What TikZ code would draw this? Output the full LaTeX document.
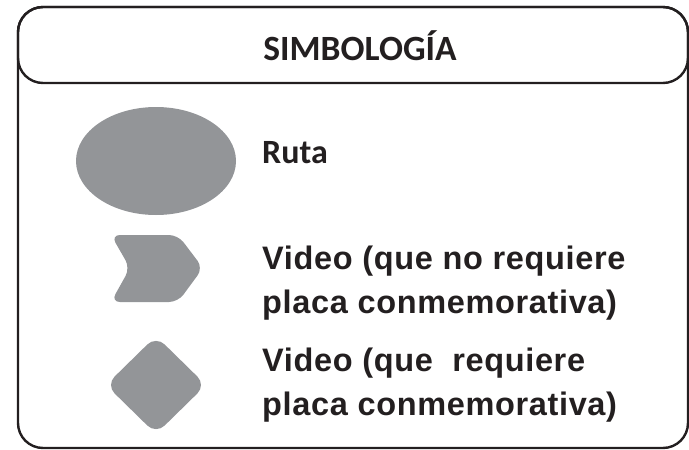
\documentclass[tikz,border=0pt]{standalone}
\usepackage{fontspec}
\setmainfont{Liberation Sans}
\newfontfamily\headfont{Carlito}
\newfontfamily\bodyfont[LetterSpace=2]{Liberation Sans}
\definecolor{framecolor}{HTML}{231F20}
\definecolor{symbolgray}{HTML}{939598}

\begin{document}
\begin{tikzpicture}[x=1pt,y=-1pt,line cap=round,line join=round]
  \useasboundingbox (0,0) rectangle (689,450);
  % frame and title bar
  \draw[framecolor,line width=2.4pt,rounded corners=25pt] (18,7) rectangle (688,448);
  \draw[framecolor,line width=2.4pt,rounded corners=25pt] (18,7) rectangle (688,83);
  \node[font=\headfont\bfseries\fontsize{35.5}{40}\selectfont,text=framecolor] (title) at (360,46) {SIMBOLOGÍA};
  % symbols
  \fill[symbolgray] (156,161) ellipse[x radius=80,y radius=54];
  \fill[symbolgray,rounded corners=9pt] (111,235) -- (178,235) -- (203,268) -- (178,302) -- (111,302) -- (130,268) -- cycle;
  \fill[symbolgray,rounded corners=12pt] (156,336) -- (206,385) -- (156,434) -- (106,385) -- cycle;
  % labels
  \node[font=\headfont\bfseries\fontsize{34}{40}\selectfont,text=framecolor,anchor=base west,inner sep=0pt] (ruta) at (262,163) {Ruta};
  \node[font=\bodyfont\bfseries\fontsize{32.5}{44}\selectfont,text=framecolor,anchor=base west,inner sep=0pt,align=left] (videoa) at (262,313) {Video (que no requiere\\placa conmemorativa)};
  \node[font=\bodyfont\bfseries\fontsize{32.5}{44}\selectfont,text=framecolor,anchor=base west,inner sep=0pt,align=left] (videob) at (262,415) {Video (que~ requiere\\placa conmemorativa)};
\end{tikzpicture}
\end{document}
